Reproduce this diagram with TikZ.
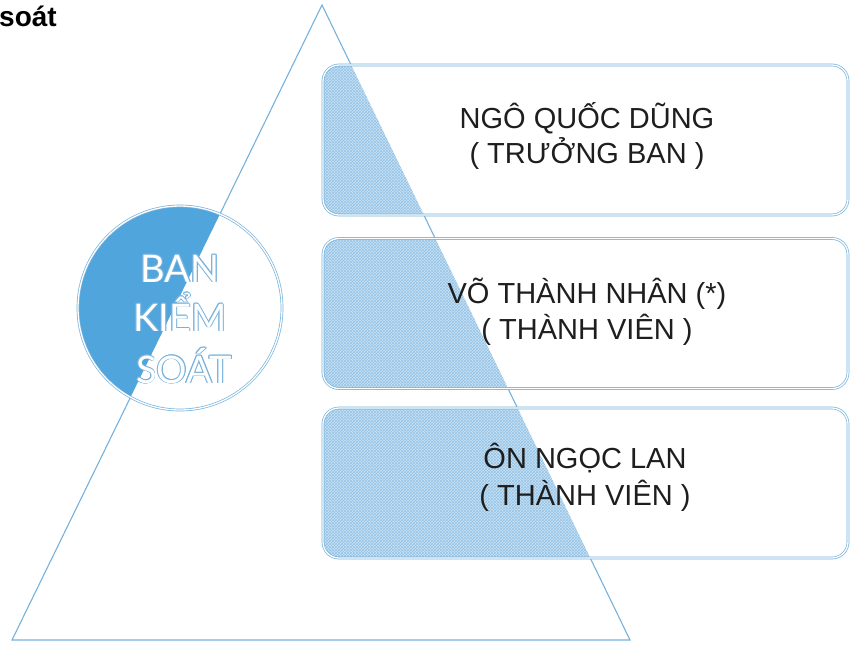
\documentclass[tikz,border=0pt]{standalone}
\usepackage{fontspec}
\setmainfont{Liberation Sans}
\newfontfamily\circfont{Lato}
\usetikzlibrary{patterns}
\definecolor{lineblue}{RGB}{118,178,220}
\definecolor{patbg}{RGB}{200,226,244}
\definecolor{patfg}{RGB}{150,195,230}
\definecolor{circblue}{RGB}{80,165,220}
\definecolor{txt}{RGB}{30,30,30}
\tikzset{
  tri/.style={draw=lineblue, line width=1.1pt, line join=miter},
  boxst/.style={rectangle, rounded corners=16pt, fill=white, draw=lineblue, line width=0.7pt,
     double=white, double distance=1.3pt, minimum width=525pt, minimum height=150pt,
     inner sep=0pt, path picture={\fill[patbg] (apex)--(bl)--(br)--cycle;
       \fill[pattern=crosshatch, pattern color=patfg] (apex)--(bl)--(br)--cycle;}},
  boxtxt/.style={anchor=base, text=txt, inner sep=0pt, font=\fontsize{29}{29}\selectfont},
  circst/.style={circle, minimum size=204pt, inner sep=0pt, fill=white, draw=lineblue,
     line width=0.7pt, double=white, double distance=1.3pt,
     path picture={\fill[circblue] (apex)--(bl)--([xshift=-300pt]bl)--([xshift=-300pt]apex)--cycle;}},
  ctxt/.style={anchor=base, inner sep=0pt, font=\circfont\fontsize{38}{38}\selectfont},
}
\newcommand\halotext[3]{%
  \foreach \dx/\dy in {0.8/0,-0.8/0,0/0.8,0/-0.8,0.6/0.6,-0.6/0.6,0.6/-0.6,-0.6/-0.6}
    \node[ctxt, text=lineblue] at ([shift={(\dx,\dy)}]#2) {#3};
  \node[ctxt, text=white] (#1) at (#2) {#3};}
\begin{document}
\begin{tikzpicture}[x=1pt,y=-1pt]
\useasboundingbox (0,0) rectangle (851,646);
\fill[white] (0,0) rectangle (851,646);
\coordinate (apex) at (322,5);
\coordinate (bl) at (12,640);
\coordinate (br) at (630,640);
\draw[tri] (apex) -- (bl) -- (br) -- cycle;

\node[anchor=base west, inner sep=0pt, font=\bfseries\fontsize{28}{28}\selectfont] (title) at (-1,26) {soát};

\node[boxst] (b1) at (585.5,140) {};
\node[boxst] (b2) at (585.5,313.5) {};
\node[boxst] (b3) at (585.5,483) {};

\node[boxtxt] (t1a) at (587,128) {NGÔ QUỐC DŨNG};
\node[boxtxt] (t1b) at (587,163) {( TRƯỞNG BAN )};
\node[boxtxt] (t2a) at (587,303) {VÕ THÀNH NHÂN (*)};
\node[boxtxt] (t2b) at (587,339) {( THÀNH VIÊN )};
\node[boxtxt] (t3a) at (585,468) {ÔN NGỌC LAN};
\node[boxtxt] (t3b) at (585,505) {( THÀNH VIÊN )};

\node[circst] (c) at (180,308) {};
\halotext{ban}{180,282}{BAN}
\halotext{kiem}{180,331}{KIỂM}
\halotext{soat}{184,383}{SOÁT}
\end{tikzpicture}
\end{document}
